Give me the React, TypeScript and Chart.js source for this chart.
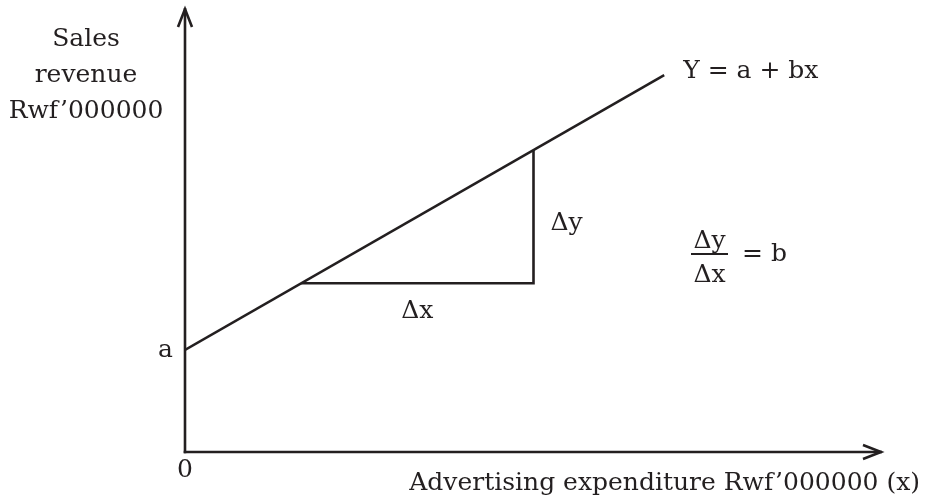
import React, { useEffect, useRef } from "react";
import { Chart, registerables } from "chart.js";

Chart.register(...registerables);

// ---- data (in arbitrary units) ----
const lineX = [0, 8.25];
const lineY = [2.3, 8.49];
const stepX = [2, 6, 6];
const stepY = [3.8, 3.8, 6.8];
const xRange = [0, 12];
const yRange = [0, 10];

// ---- texts ----
const yAxisTitle = ["Sales", "revenue", "Rwf’000000"];
const xAxisTitle = "Advertising expenditure Rwf’000000 (x)";
const originText = "0";
const interceptText = "a";
const equationText = "Y = a + bx";
const dyText = "Δy";
const dxText = "Δx";
const slopeText = "= b";

const INK = "#231f20";
const FONT = "'DejaVu Serif', serif";

const drawPlugin = {
  id: "diagram",
  beforeDatasetsDraw(chart: any) {
    const { ctx, chartArea, scales } = chart;
    const x0 = scales.x.getPixelForValue(0);
    const y0 = scales.y.getPixelForValue(0);
    ctx.save();
    ctx.strokeStyle = INK;
    ctx.lineWidth = 2.6;
    ctx.lineJoin = "miter";
    ctx.lineCap = "butt";
    // y axis
    ctx.beginPath();
    ctx.moveTo(x0, y0 + 1.3);
    ctx.lineTo(x0, chartArea.top);
    ctx.stroke();
    ctx.beginPath();
    ctx.moveTo(x0 - 7, chartArea.top + 19);
    ctx.lineTo(x0, chartArea.top + 1);
    ctx.lineTo(x0 + 7, chartArea.top + 19);
    ctx.stroke();
    // x axis
    ctx.beginPath();
    ctx.moveTo(x0 - 1.3, y0);
    ctx.lineTo(chartArea.right, y0);
    ctx.stroke();
    ctx.beginPath();
    ctx.moveTo(chartArea.right - 19, y0 - 7);
    ctx.lineTo(chartArea.right - 1, y0);
    ctx.lineTo(chartArea.right - 19, y0 + 7);
    ctx.stroke();
    ctx.restore();
  },
  afterDraw(chart: any) {
    const { ctx, scales } = chart;
    const px = (v: number) => scales.x.getPixelForValue(v);
    const py = (v: number) => scales.y.getPixelForValue(v);
    ctx.save();
    ctx.fillStyle = INK;
    ctx.strokeStyle = INK;
    ctx.font = `25px ${FONT}`;
    ctx.textBaseline = "middle";

    // y axis title
    ctx.textAlign = "center";
    yAxisTitle.forEach((t, i) => ctx.fillText(t, 86, 39 + i * 36));

    // x axis title
    ctx.textAlign = "right";
    ctx.fillText(xAxisTitle, 920, 483);

    // origin and intercept
    ctx.textAlign = "center";
    ctx.fillText(originText, px(0), 470);
    ctx.textAlign = "right";
    ctx.fillText(interceptText, px(0) - 12, py(lineY[0]) + 1);

    // equation at line end
    ctx.textAlign = "left";
    ctx.fillText(equationText, px(lineX[1]) + 19, py(lineY[1]) - 4);

    // delta labels of the triangle
    ctx.textAlign = "left";
    ctx.fillText(dyText, px(stepX[1]) + 17, (py(stepY[1]) + py(stepY[2])) / 2 + 7);
    ctx.textAlign = "center";
    ctx.fillText(dxText, (px(stepX[0]) + px(stepX[1])) / 2, py(stepY[0]) + 28);

    // slope fraction
    const fx = 691;
    const fw = 37;
    const fy = 254;
    ctx.textAlign = "center";
    ctx.fillText(dyText, fx + fw / 2, fy - 13);
    ctx.fillText(dxText, fx + fw / 2, fy + 21);
    ctx.lineWidth = 2;
    ctx.beginPath();
    ctx.moveTo(fx, fy);
    ctx.lineTo(fx + fw, fy);
    ctx.stroke();
    ctx.textAlign = "left";
    ctx.fillText(slopeText, fx + fw + 14, fy);
    ctx.restore();
  },
};

export default function App() {
  const ref = useRef<HTMLCanvasElement>(null);
  useEffect(() => {
    document.body.style.margin = "0";
    const chart = new Chart(ref.current as HTMLCanvasElement, {
      type: "scatter",
      data: {
        datasets: [
          {
            data: lineX.map((x, i) => ({ x, y: lineY[i] })),
            showLine: true,
            borderColor: INK,
            borderWidth: 2.6,
            pointRadius: 0,
            fill: false,
          },
          {
            data: stepX.map((x, i) => ({ x, y: stepY[i] })),
            showLine: true,
            borderColor: INK,
            borderWidth: 2.6,
            pointRadius: 0,
            fill: false,
          },
        ],
      },
      options: {
        animation: false,
        responsive: false,
        layout: { padding: { left: 185, right: 45, top: 8, bottom: 51 } },
        plugins: { legend: { display: false }, tooltip: { enabled: false } },
        scales: {
          x: { type: "linear", min: xRange[0], max: xRange[1], display: false },
          y: { type: "linear", min: yRange[0], max: yRange[1], display: false },
        },
      },
      plugins: [drawPlugin],
    });
    return () => chart.destroy();
  }, []);
  return (
    <div style={{ position: "fixed", left: 0, top: 0, width: 927, height: 503, background: "#fff" }}>
      <canvas ref={ref} width={927} height={503} />
    </div>
  );
}
